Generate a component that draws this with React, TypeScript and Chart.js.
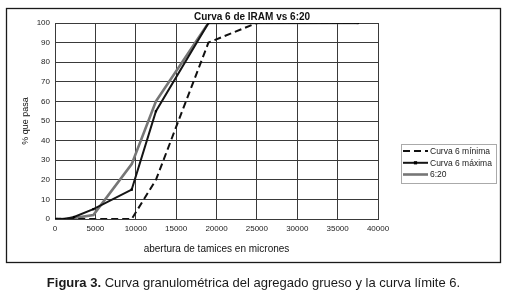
import React, { useEffect, useRef } from "react";
import { Chart, registerables } from "chart.js";

Chart.register(...registerables);

// ---- data ----
const sieves = [150, 300, 600, 1180, 2360, 4750, 9500, 12500, 19000, 25000, 37500];
const minima = [0, 0, 0, 0, 0, 0, 0, 20, 90, 100, 100];
const maxima = [0, 0, 0, 0, 1, 5, 15, 55, 100, 100, 100];
const muestra = [0, 0, 0, 0, 0.5, 2, 28, 60, 100, 100, 100];
const seriesNames = ["Curva 6 mínima", "Curva 6 máxima", "6:20"];
const chartTitle = "Curva 6 de IRAM vs 6:20";
const xTitle = "abertura de tamices en micrones";
const yTitle = "% que pasa";
const xRange = [0, 40000];
const xStep = 5000;
const yRange = [0, 100];
const yStep = 10;

const FONT = '"Liberation Sans", Arial, sans-serif';

const overlayPlugin = {
  id: "overlay",
  beforeDraw(chart: any) {
    const ctx = chart.ctx;
    ctx.save();
    ctx.fillStyle = "#ffffff";
    ctx.fillRect(0, 0, chart.width, chart.height);
    ctx.restore();
  },
  afterDraw(chart: any) {
    const ctx = chart.ctx;
    ctx.save();
    // outer frame
    ctx.strokeStyle = "#1a1a1a";
    ctx.lineWidth = 1.3;
    ctx.strokeRect(6.5, 8.5, 494, 254);
    // title
    ctx.font = `bold 10px ${FONT}`;
    ctx.fillStyle = "#111";
    ctx.textAlign = "center";
    ctx.textBaseline = "middle";
    ctx.fillText(chartTitle, 252, 17);
    // legend
    const bx = 401, by = 144, bw = 95, bh = 39;
    ctx.strokeStyle = "#aaaaaa";
    ctx.lineWidth = 1;
    ctx.strokeRect(bx + 0.5, by + 0.5, bw, bh);
    const rows = [151, 162.8, 174.5];
    ctx.font = `8.5px ${FONT}`;
    ctx.textAlign = "left";
    ctx.textBaseline = "middle";
    chart.data.datasets.forEach((ds: any, i: number) => {
      const y = rows[i];
      ctx.save();
      ctx.strokeStyle = ds.borderColor;
      ctx.lineWidth = ds.borderWidth;
      ctx.setLineDash(ds.borderDash || []);
      ctx.beginPath();
      ctx.moveTo(403, y);
      ctx.lineTo(428, y);
      ctx.stroke();
      ctx.restore();
      if (ds.pointRadius > 0) {
        ctx.fillStyle = ds.pointBackgroundColor;
        const r = ds.pointRadius;
        ctx.fillRect(415.5 - r, y - r, 2 * r, 2 * r);
      }
      ctx.fillStyle = "#222";
      ctx.fillText(ds.label, 430, y + 0.5);
    });
    ctx.restore();
  },
};

export default function App() {
  const ref = useRef<HTMLCanvasElement>(null);
  useEffect(() => {
    const toPts = (ys: number[]) => sieves.map((x, i) => ({ x, y: ys[i] }));
    const chart = new Chart(ref.current as HTMLCanvasElement, {
      type: "line",
      data: {
        datasets: [
          {
            label: seriesNames[0],
            data: toPts(minima),
            borderColor: "#111111",
            borderWidth: 2,
            borderDash: [7, 4],
            pointRadius: 0,
            fill: false,
            tension: 0,
          },
          {
            label: seriesNames[1],
            data: toPts(maxima),
            borderColor: "#151515",
            borderWidth: 2,
            pointRadius: 1.6,
            pointStyle: "rect",
            pointBackgroundColor: "#000000",
            pointBorderColor: "#000000",
            pointBorderWidth: 0,
            fill: false,
            tension: 0,
          },
          {
            label: seriesNames[2],
            data: toPts(muestra),
            borderColor: "#767676",
            borderWidth: 2.6,
            pointRadius: 0,
            fill: false,
            tension: 0,
          },
        ],
      },
      options: {
        responsive: false,
        animation: false,
        devicePixelRatio: 1,
        layout: { padding: { left: 0, top: 23, right: 127, bottom: 37 } },
        plugins: {
          legend: { display: false },
          title: { display: false },
          tooltip: { enabled: false },
        },
        scales: {
          x: {
            type: "linear",
            min: xRange[0],
            max: xRange[1],
            afterFit: (s: any) => {
              s.height = 36;
            },
            ticks: {
              stepSize: xStep,
              autoSkip: false,
              maxRotation: 0,
              padding: 5,
              color: "#222",
              font: { family: FONT, size: 8 },
              callback: (v: any) => String(v),
            },
            grid: { color: "#3a3a3a", lineWidth: 1, drawTicks: false },
            border: { color: "#3a3a3a", width: 1 },
            title: {
              display: true,
              text: xTitle,
              color: "#111",
              font: { family: FONT, size: 10 },
              padding: { top: 0, bottom: 0 },
            },
          },
          y: {
            type: "linear",
            min: yRange[0],
            max: yRange[1],
            afterFit: (s: any) => {
              s.width = 55;
            },
            ticks: {
              stepSize: yStep,
              padding: 5,
              color: "#222",
              font: { family: FONT, size: 8 },
            },
            grid: { color: "#3a3a3a", lineWidth: 1, drawTicks: false },
            border: { color: "#3a3a3a", width: 1 },
            title: {
              display: true,
              text: yTitle,
              color: "#111",
              font: { family: FONT, size: 9 },
              padding: { top: 20, bottom: 0 },
            },
          },
        },
      },
      plugins: [overlayPlugin],
    } as any);
    return () => chart.destroy();
  }, []);

  return (
    <div style={{ position: "absolute", left: 0, top: 0, width: 505, height: 292, background: "#fff" }}>
      <canvas
        ref={ref}
        width={505}
        height={292}
        style={{ position: "absolute", left: 0, top: 0, width: 505, height: 292 }}
      />
      <div
        style={{
          position: "absolute",
          left: 0,
          top: 275,
          width: 507,
          textAlign: "center",
          font: `13px ${FONT}`,
          lineHeight: "16px",
          color: "#1a1a1a",
          whiteSpace: "nowrap",
        }}
      >
        <b>Figura 3.</b> Curva granulométrica del agregado grueso y la curva límite 6.
      </div>
    </div>
  );
}
